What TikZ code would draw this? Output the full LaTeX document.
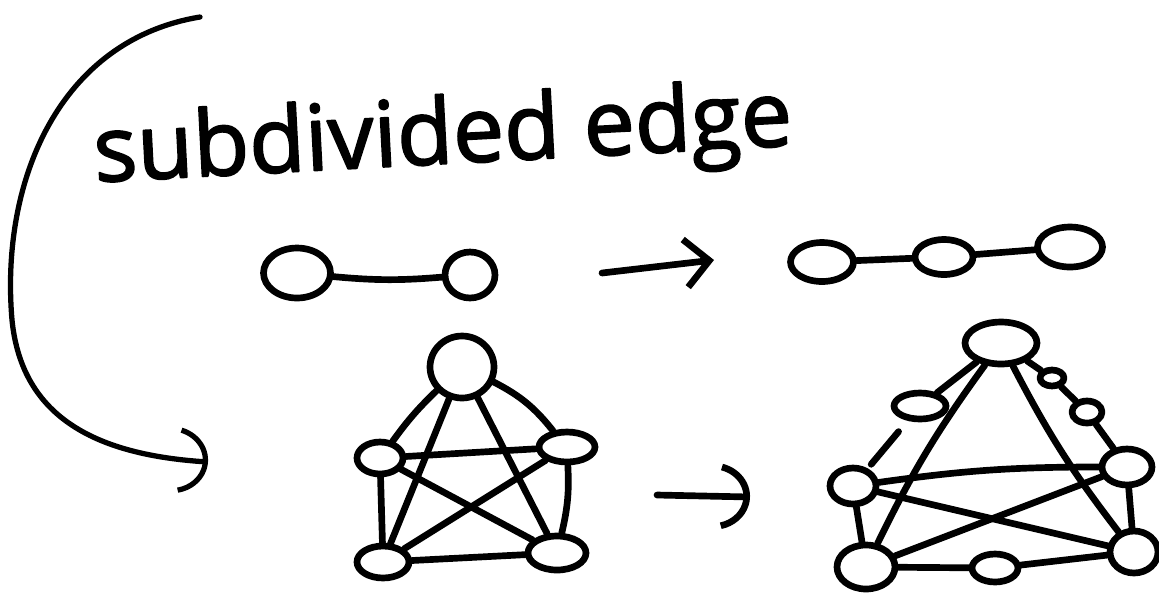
\documentclass[tikz,border=0pt]{standalone}
\usepackage{fontspec}
\setmainfont{Open Sans}
\usetikzlibrary{arrows.meta,shapes.geometric}

\begin{document}
\begin{tikzpicture}[
			x=0.02cm, y=-0.02cm,
			line width=3.8pt, line cap=round, line join=round,
			vtx/.style={ellipse, draw, inner sep=0pt},
			sz/.style 2 args={minimum width=#1*0.2mm, minimum height=#2*0.2mm},
			hook/.style={-{Arc Barb[length=5mm, width=9mm, arc=150, scale=1.5]}}
			]
			\useasboundingbox (0,0) rectangle (1159,593);
			
			\node[rotate=3, font=\fontsize{52}{60}\selectfont\addfontfeatures{FakeBold=2}] (title) at (443,140) {subdivided edge};
			
			\coordinate (c0) at (200,17);
			\coordinate (c1) at (12,320);
			\coordinate (c2) at (208,462);
			\draw[line width=3pt, hook] (c0) .. controls (60,40) and (0,180) .. (c1) .. controls (22,420) and (100,455) .. (c2);
			
			\node[vtx, sz={67}{50}] (a1) at (297,273) {};
			\node[vtx, sz={50}{46}] (a2) at (470,275) {};
			\draw (a1) to[bend right=5] (a2);
			
			\coordinate (p1) at (602,273);
			\coordinate (p2) at (714,260);
			\draw[-{Straight Barb[length=4mm, width=8mm, scale=1.2]}] (p1) -- (p2);
			
			\node[vtx, sz={63}{39}] (b1) at (822,262) {};
			\node[vtx, sz={58}{35}] (b2) at (944,257) {};
			\node[vtx, sz={65}{40}] (b3) at (1070,247) {};
			\draw (b1) -- (b2);
			\draw (b2) -- (b3);
			
			\node[vtx, sz={64}{62}] (t) at (462,367) {};
			\node[vtx, sz={46}{32}] (l) at (380,458) {};
			\node[vtx, sz={56}{30}] (r) at (567,447) {};
			\node[vtx, sz={52}{32}] (bl) at (383,562) {};
			\node[vtx, sz={58}{34}] (br) at (557,553) {};
			\draw (t) to[bend right=5] (l);
			\draw (t) to[bend left=12] (r);
			\draw (t) -- (bl);
			\draw (t) -- (br);
			\draw (l) -- (r);
			\draw (l) -- (br);
			\draw (r) -- (bl);
			\draw (l) -- (bl);
			\draw (r) to[bend left=8] (br);
			\draw (bl) -- (br);
			
			\coordinate (q1) at (657,495);
			\coordinate (q2) at (750,497);
			\draw[hook] (q1) -- (q2);
			
			\node[vtx, sz={72}{42}] (ut) at (1001,343) {};
			\node[vtx, sz={46}{36}] (ul) at (853,486) {};
			\node[vtx, sz={50}{36}] (ur) at (1127,467) {};
			\node[vtx, sz={58}{44}] (ubl) at (866,567) {};
			\node[vtx, sz={48}{42}] (ubr) at (1134,552) {};
			\node[vtx, sz={52}{26}] (s1) at (920,406) {};
			\node[vtx, sz={24}{16}] (s2) at (1052,378) {};
			\node[vtx, sz={30}{22}] (s3) at (1087,412) {};
			\node[vtx, sz={46}{28}] (s4) at (995,568) {};
			\draw (ut) -- (s1);
			\draw[shorten <=3pt, shorten >=8pt] (ul) -- (s1);
			\draw (ut) -- (s2);
			\draw (s2) -- (s3);
			\draw (s3) -- (ur);
			\draw (ut) to[bend right=5] (ubl);
			\draw (ut) to[bend right=5] (ubr);
			\draw (ul) to[bend left=4] (ur);
			\draw (ul) -- (ubr);
			\draw (ur) -- (ubl);
			\draw (ul) -- (ubl);
			\draw (ur) -- (ubr);
			\draw (ubl) -- (s4);
			\draw (s4) -- (ubr);
		\end{tikzpicture}
\end{document}
